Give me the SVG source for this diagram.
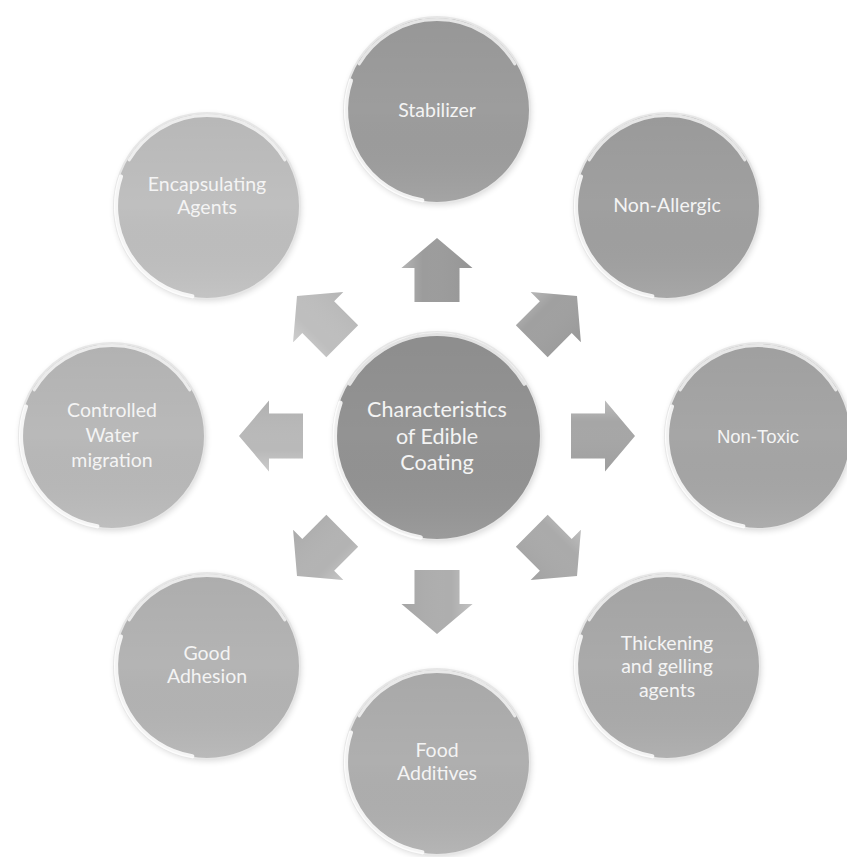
<svg xmlns="http://www.w3.org/2000/svg" width="847" height="857" viewBox="0 0 847 857">
<style>
.rim{fill:none;stroke:#e6e6e6;stroke-width:2}
.hl{fill:none;stroke:#ffffff;stroke-opacity:0.75;stroke-width:3;stroke-linecap:round}
.hl2{fill:none;stroke:#ffffff;stroke-opacity:0.85;stroke-width:4;stroke-linecap:round}
.lbl{font-family:Lato,"Open Sans","Liberation Sans",sans-serif;fill:#f4f4f4;text-anchor:middle;font-size:19.5px}
.arr{stroke:none}
</style>
<defs>
<linearGradient id="shade" x1="0" y1="0" x2="0" y2="1">
<stop offset="0" stop-color="#000" stop-opacity="0.04"/>
<stop offset="0.5" stop-color="#000" stop-opacity="0"/>
<stop offset="1" stop-color="#fff" stop-opacity="0.08"/>
</linearGradient>
<linearGradient id="ag" x1="0" y1="0" x2="1" y2="0">
<stop offset="0" stop-color="#fff" stop-opacity="0.25"/>
<stop offset="0.3" stop-color="#fff" stop-opacity="0"/>
<stop offset="1" stop-color="#000" stop-opacity="0.05"/>
</linearGradient>
<path id="arrow" d="M 0 -198 L 35.5 -168 L 22.5 -168 L 22.5 -134 L -22.5 -134 L -22.5 -168 L -35.5 -168 Z"/>
<g id="gloss">
<path class="hl" d="M -74 -44 A 86 86 0 0 1 74 -44"/>
<path class="hl2" d="M -82 -28 A 87 87 0 0 0 -14 86"/>
</g>
<filter id="sh" x="-20%" y="-20%" width="140%" height="140%">
<feGaussianBlur in="SourceAlpha" stdDeviation="3"/>
<feOffset dx="1" dy="2"/>
<feComponentTransfer><feFuncA type="linear" slope="0.15"/></feComponentTransfer>
<feMerge><feMergeNode/><feMergeNode in="SourceGraphic"/></feMerge>
</filter>
</defs>
<rect width="847" height="857" fill="#ffffff"/>

<g id="connectors" transform="translate(437,436)">
<g transform="rotate(0)"><use href="#arrow" fill="#9c9c9c"/><use href="#arrow" fill="url(#ag)"/></g>
<g transform="rotate(45)"><use href="#arrow" fill="#a0a0a0"/><use href="#arrow" fill="url(#ag)"/></g>
<g transform="rotate(90)"><use href="#arrow" fill="#a6a6a6"/><use href="#arrow" fill="url(#ag)"/></g>
<g transform="rotate(135)"><use href="#arrow" fill="#aaaaaa"/><use href="#arrow" fill="url(#ag)"/></g>
<g transform="rotate(180)"><use href="#arrow" fill="#aeaeae"/><use href="#arrow" fill="url(#ag)"/></g>
<g transform="rotate(225)"><use href="#arrow" fill="#b3b3b3"/><use href="#arrow" fill="url(#ag)"/></g>
<g transform="rotate(270)"><use href="#arrow" fill="#b9b9b9"/><use href="#arrow" fill="url(#ag)"/></g>
<g transform="rotate(315)"><use href="#arrow" fill="#bebebe"/><use href="#arrow" fill="url(#ag)"/></g>
</g>

<g id="node-center" transform="translate(437,436)">
<circle r="104" fill="#939393" filter="url(#sh)"/>
<circle r="104" fill="url(#shade)"/>
<circle r="104" class="rim"/>
<g transform="scale(1.18)"><use href="#gloss"/></g>
<text class="lbl" style="font-size:21.5px" y="-19">Characteristics</text>
<text class="lbl" style="font-size:21.5px" y="7.5">of Edible</text>
<text class="lbl" style="font-size:21.5px" y="34">Coating</text>
</g>

<g id="node-stabilizer" transform="translate(437,110)">
<circle r="93" fill="#9d9d9d" filter="url(#sh)"/>
<circle r="93" fill="url(#shade)"/>
<circle r="93" class="rim"/>
<g transform="scale(1.05)"><use href="#gloss"/></g>
<text class="lbl" y="7">Stabilizer</text>
</g>

<g id="node-nonallergic" transform="translate(667,206)">
<circle r="93" fill="#a0a0a0" filter="url(#sh)"/>
<circle r="93" fill="url(#shade)"/>
<circle r="93" class="rim"/>
<g transform="scale(1.05)"><use href="#gloss"/></g>
<text class="lbl" y="6">Non-Allergic</text>
</g>

<g id="node-nontoxic" transform="translate(758,436)">
<circle r="93" fill="#a6a6a6" filter="url(#sh)"/>
<circle r="93" fill="url(#shade)"/>
<circle r="93" class="rim"/>
<g transform="scale(1.05)"><use href="#gloss"/></g>
<text class="lbl" style="font-family:'Liberation Sans',Arial,sans-serif;font-size:18.5px" y="7">Non-Toxic</text>
</g>

<g id="node-thickening" transform="translate(667,666)">
<circle r="93" fill="#aaaaaa" filter="url(#sh)"/>
<circle r="93" fill="url(#shade)"/>
<circle r="93" class="rim"/>
<g transform="scale(1.05)"><use href="#gloss"/></g>
<text class="lbl" y="-16">Thickening</text>
<text class="lbl" y="7">and gelling</text>
<text class="lbl" y="31">agents</text>
</g>

<g id="node-food" transform="translate(437,762)">
<circle r="93" fill="#afafaf" filter="url(#sh)"/>
<circle r="93" fill="url(#shade)"/>
<circle r="93" class="rim"/>
<g transform="scale(1.05)"><use href="#gloss"/></g>
<text class="lbl" y="-5">Food</text>
<text class="lbl" y="18">Additives</text>
</g>

<g id="node-adhesion" transform="translate(207,666)">
<circle r="93" fill="#b4b4b4" filter="url(#sh)"/>
<circle r="93" fill="url(#shade)"/>
<circle r="93" class="rim"/>
<g transform="scale(1.05)"><use href="#gloss"/></g>
<text class="lbl" y="-6">Good</text>
<text class="lbl" y="17">Adhesion</text>
</g>

<g id="node-water" transform="translate(112,436)">
<circle r="93" fill="#b9b9b9" filter="url(#sh)"/>
<circle r="93" fill="url(#shade)"/>
<circle r="93" class="rim"/>
<g transform="scale(1.05)"><use href="#gloss"/></g>
<text class="lbl" y="-19">Controlled</text>
<text class="lbl" y="6">Water</text>
<text class="lbl" y="31">migration</text>
</g>

<g id="node-encapsulating" transform="translate(207,206)">
<circle r="93" fill="#bfbfbf" filter="url(#sh)"/>
<circle r="93" fill="url(#shade)"/>
<circle r="93" class="rim"/>
<g transform="scale(1.05)"><use href="#gloss"/></g>
<text class="lbl" y="-15">Encapsulating</text>
<text class="lbl" y="8">Agents</text>
</g>
</svg>
